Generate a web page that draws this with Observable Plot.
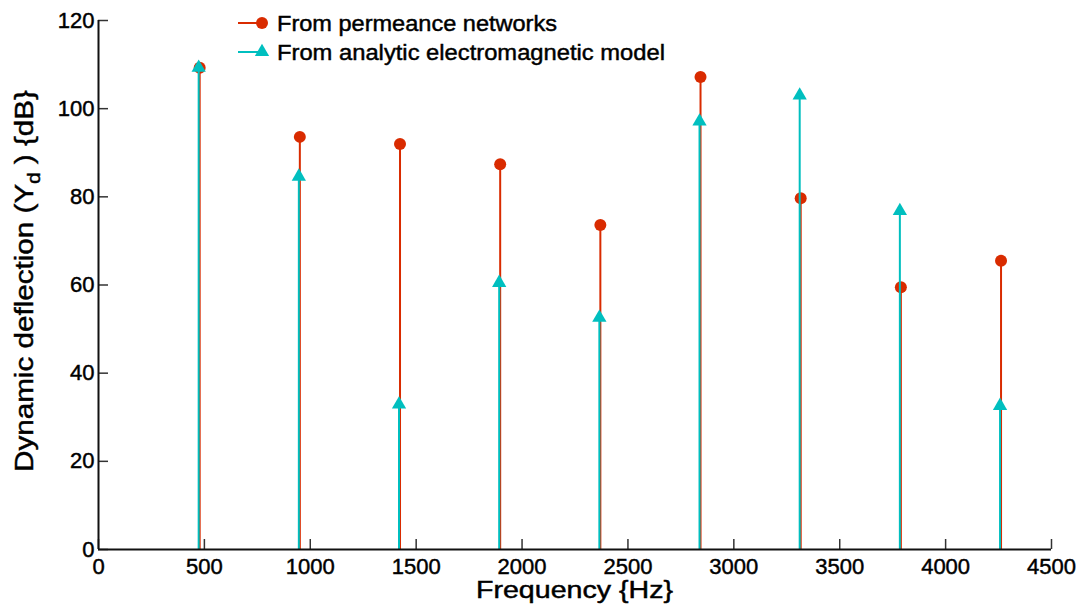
<!DOCTYPE html>
<html><head><meta charset="utf-8">
<script src="https://cdn.jsdelivr.net/npm/d3@7"></script>
<script src="https://cdn.jsdelivr.net/npm/@observablehq/plot@0.6"></script>
<style>
body{margin:0;background:#fff;}
#chart{position:relative;width:1081px;height:608px;}
#chart svg text{stroke:#000;stroke-width:0.45px;}
</style></head><body><div id="chart"></div>
<script>
// Data
const frequencies = [473, 946, 1419, 1892, 2365, 2838, 3311, 3784, 4257];
const permeance  = [109.3, 93.6, 92.0, 87.4, 73.6, 107.2, 79.7, 59.5, 65.5];
const analytic   = [109.3, 84.6, 32.9, 60.5, 52.6, 97.1, 103.0, 76.8, 32.6];
const xTicks = [0, 500, 1000, 1500, 2000, 2500, 3000, 3500, 4000, 4500];
const yTicks = [0, 20, 40, 60, 80, 100, 120];
const seriesNames = ["From permeance networks", "From analytic electromagnetic model"];
const seriesColors = ["#d92b00", "#00bfbf"];
const xLabel = "Frequency {Hz}";

const W = 1081, H = 608, mL = 98, mR = 30, mT = 20, mB = 59;
const pw = W - mL - mR, ph = H - mT - mB;
const red = frequencies.map((f, i) => ({f, v: permeance[i]}));
const cyan = frequencies.map((f, i) => ({f, v: analytic[i]}));
const FONT = "'Liberation Sans', Arial, sans-serif";

const plot = Plot.plot({
  width: W, height: H,
  marginLeft: mL, marginRight: mR, marginTop: mT, marginBottom: mB,
  style: {fontFamily: FONT, fontSize: "22px", color: "black", background: "white", overflow: "visible"},
  x: {domain: [0, 4500]},
  y: {domain: [0, 120]},
  marks: [
    Plot.ruleX(red, {x: "f", y1: 0, y2: "v", stroke: seriesColors[0], strokeWidth: 2, dx: 1}),
    Plot.dot(red, {x: "f", y: "v", r: 6, fill: seriesColors[0], stroke: "none", dx: 1}),
    Plot.ruleX(cyan, {x: "f", y1: 0, y2: "v", stroke: seriesColors[1], strokeWidth: 2}),
    Plot.dot(cyan, {x: "f", y: "v", symbol: "triangle", r: 5.3, fill: seriesColors[1], stroke: "none"}),
    Plot.tickX(xTicks, {x: d => d, insetTop: ph - 10, stroke: "#333", strokeWidth: 1.5}),
    Plot.tickY(yTicks, {y: d => d, insetRight: pw - 10, stroke: "#333", strokeWidth: 1.5}),
    Plot.ruleY([0], {stroke: "#111", strokeWidth: 2}),
    Plot.ruleX([0], {y1: 0, y2: 120, stroke: "#111", strokeWidth: 2}),
    Plot.axisX({ticks: xTicks, tickSize: 0, tickPadding: 9, label: null, fontSize: 22, tickFormat: d => String(d)}),
    Plot.axisY({ticks: yTicks, tickSize: 0, tickPadding: 4, label: null, fontSize: 22, tickFormat: d => String(d)})
  ]
});
document.getElementById("chart").appendChild(plot);

const svg = d3.select(plot);
// x label
svg.append("text")
  .attr("x", mL + pw / 2).attr("y", 598)
  .attr("text-anchor", "middle")
  .attr("font-family", FONT).attr("font-size", 23)
  .attr("textLength", 197).attr("lengthAdjust", "spacingAndGlyphs")
  .text(xLabel);

// y label with subscript
const yl = svg.append("text")
  .attr("transform", "translate(33,281) rotate(-90)")
  .attr("text-anchor", "middle")
  .attr("font-family", FONT).attr("font-size", 26)
  .attr("textLength", 382).attr("lengthAdjust", "spacingAndGlyphs");
yl.append("tspan").text("Dynamic deflection (Y");
yl.append("tspan").attr("font-size", 18).attr("dy", 7).text("d");
yl.append("tspan").attr("dy", -7).text(" ) {dB}");

// legend
const legendRows = [23, 52];
const legendLengths = [280, 388];
seriesNames.forEach((name, i) => {
  const g = svg.append("g");
  const y = legendRows[i];
  g.append("line").attr("x1", 238).attr("x2", 262).attr("y1", y).attr("y2", y)
    .attr("stroke", seriesColors[i]).attr("stroke-width", 2);
  if (i === 0) {
    g.append("circle").attr("cx", 262).attr("cy", y).attr("r", 6).attr("fill", seriesColors[i]);
  } else {
    g.append("path").attr("d", d3.symbol(d3.symbolTriangle, Math.PI * 5.3 * 5.3)())
      .attr("transform", `translate(262,${y})`).attr("fill", seriesColors[i]);
  }
  g.append("text").attr("x", 277).attr("y", y).attr("dy", "0.35em")
    .attr("text-anchor", "start")
    .attr("font-family", FONT).attr("font-size", 22)
    .attr("textLength", legendLengths[i]).attr("lengthAdjust", "spacingAndGlyphs")
    .text(name);
});
</script>
</body></html>
